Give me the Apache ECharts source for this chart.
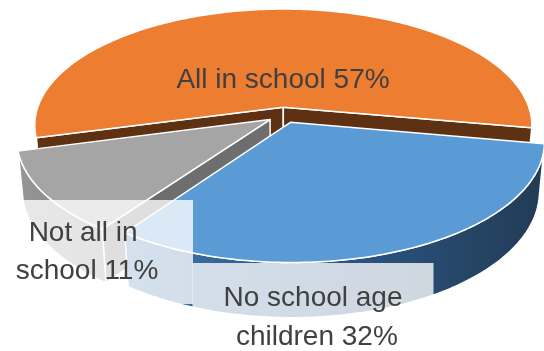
<!DOCTYPE html>
<html>
<head>
<meta charset="utf-8">
<script src="https://cdn.jsdelivr.net/npm/echarts/dist/echarts.min.js"></script>
<style>
  html, body { margin: 0; padding: 0; background: #ffffff; }
  #chart { width: 544px; height: 351px; }
</style>
</head>
<body>
<div id="chart"></div>
<script>
// Household school attendance shares
const categories = ['All in school', 'No school age children', 'Not all in school'];
const shares = [57, 32, 11];

// Slice colours: top surface, radial cut faces, outer rim
const topColors = ['#ED7D31', '#5B9BD5', '#A5A5A5'];
const cutColors = ['#5E3113', '#2B4F74', '#6E6E6E'];
const rimColors = [
  ['#b85d20', '#9c4c18'],
  ['#3d74ad', '#2c5785', '#223b55'],
  ['#969696', '#858585']
];
// Painting order (back slice first)
const paintRank = [0, 2, 1];

// Label placement and boxes
const labelAnchor = [[283, 80], [313, 318], [87, 252]];
const labelWrap = [260, 185, 150];
const labelPad = [[0, 0], [16, 28], [14, 31]];
const labelBoxFill = [null, 'rgba(255,255,255,0.78)', 'rgba(255,255,255,0.78)'];

// Perspective camera for the tilted pie disc (unit radius)
const view = {
  cx: 284, cy: 115, focal: 1407, dist: 5.67,
  tilt: 27.8 * Math.PI / 180,
  height: 0.227, explode: 0.068, startAngle: 255
};

const sinT = Math.sin(view.tilt), cosT = Math.cos(view.tilt);
const cam = [0, view.dist * sinT, view.dist * cosT];

function project(x, y, z) {
  const d = view.dist - (y * sinT + z * cosT);
  return [view.cx + view.focal * x / d, view.cy - view.focal * (y * cosT - z * sinT) / d];
}
function faces(n, q) {
  return n[0] * (cam[0] - q[0]) + n[1] * (cam[1] - q[1]) + n[2] * (cam[2] - q[2]) > 0;
}

const total = shares.reduce((a, b) => a + b, 0);

function renderItem(params, api) {
  const i = params.dataIndex;
  let before = 0;
  for (let k = 0; k < i; k++) before += shares[k];
  const a0 = (view.startAngle + 360 * before / total) * Math.PI / 180;
  const a1 = a0 + 360 * shares[i] / total * Math.PI / 180;
  const mid = (a0 + a1) / 2;
  const ox = view.explode * Math.sin(mid), oz = -view.explode * Math.cos(mid);
  const H = view.height;
  const P = (a, y) => project(Math.sin(a) + ox, y, -Math.cos(a) + oz);
  const apexTop = project(ox, 0, oz), apexBot = project(ox, -H, oz);
  const base = paintRank[i] * 10;
  const edge = { stroke: '#ffffff', lineWidth: 1.5, lineJoin: 'round' };
  const children = [];

  // Radial cut faces
  const cutFace = (a, sign) => {
    const n = [sign * Math.cos(a), 0, sign * Math.sin(a)];
    const q = [0.5 * Math.sin(a) + ox, -H / 2, -0.5 * Math.cos(a) + oz];
    if (!faces(n, q)) return;
    children.push({
      type: 'polygon', z2: base + 1,
      shape: { points: [apexTop, P(a, 0), P(a, -H), apexBot] },
      style: Object.assign({ fill: cutColors[i] }, edge)
    });
  };
  cutFace(a0, -1);
  cutFace(a1, 1);

  // Outer rim, split into runs that face the camera
  const steps = Math.max(4, Math.ceil((a1 - a0) / (Math.PI / 180)));
  const da = (a1 - a0) / steps;
  let run = null;
  const runs = [];
  for (let s = 0; s < steps; s++) {
    const am = a0 + (s + 0.5) * da;
    const n = [Math.sin(am), 0, -Math.cos(am)];
    const q = [Math.sin(am) + ox, -H / 2, -Math.cos(am) + oz];
    if (faces(n, q)) {
      if (!run) { run = [a0 + s * da, a0 + (s + 1) * da]; runs.push(run); }
      else run[1] = a0 + (s + 1) * da;
    } else run = null;
  }
  const stops = rimColors[i].map((c, k, arr) => ({ offset: k / (arr.length - 1), color: c }));
  runs.forEach(([r0, r1]) => {
    const m = Math.max(2, Math.ceil((r1 - r0) / (Math.PI / 180)));
    const top = [], bot = [];
    for (let s = 0; s <= m; s++) {
      const a = r0 + (r1 - r0) * s / m;
      top.push(P(a, 0));
      bot.push(P(a, -H));
    }
    children.push({
      type: 'polygon', z2: base + 2,
      shape: { points: top.concat(bot.reverse()) },
      style: Object.assign({ fill: new echarts.graphic.LinearGradient(0, 0, 1, 0, stops) }, edge)
    });
  });

  // Top surface
  const topPts = [apexTop];
  for (let s = 0; s <= steps; s++) topPts.push(P(a0 + s * da, 0));
  children.push({
    type: 'polygon', z2: base + 5,
    shape: { points: topPts },
    style: Object.assign({ fill: topColors[i] }, edge)
  });

  // Data label
  const labelStyle = {
    text: categories[i] + ' ' + api.value(0) + '%',
    fill: '#404040',
    fontSize: 28,
    fontFamily: '"Liberation Sans", Arial, sans-serif',
    align: 'center',
    verticalAlign: 'middle',
    width: labelWrap[i],
    overflow: 'break',
    lineHeight: i === 0 ? 34 : (i === 1 ? 39 : 38)
  };
  if (labelBoxFill[i]) {
    labelStyle.backgroundColor = labelBoxFill[i];
    labelStyle.padding = labelPad[i];
  }
  children.push({
    type: 'text', z2: 100,
    x: labelAnchor[i][0], y: labelAnchor[i][1],
    style: labelStyle
  });

  return { type: 'group', children };
}

const chart = echarts.init(document.getElementById('chart'), null, { renderer: 'canvas' });
chart.setOption({
  animation: false,
  backgroundColor: '#ffffff',
  series: [{
    type: 'custom',
    coordinateSystem: 'none',
    silent: true,
    renderItem,
    data: shares.map((v, i) => ({ name: categories[i], value: v }))
  }]
});
</script>
</body>
</html>
